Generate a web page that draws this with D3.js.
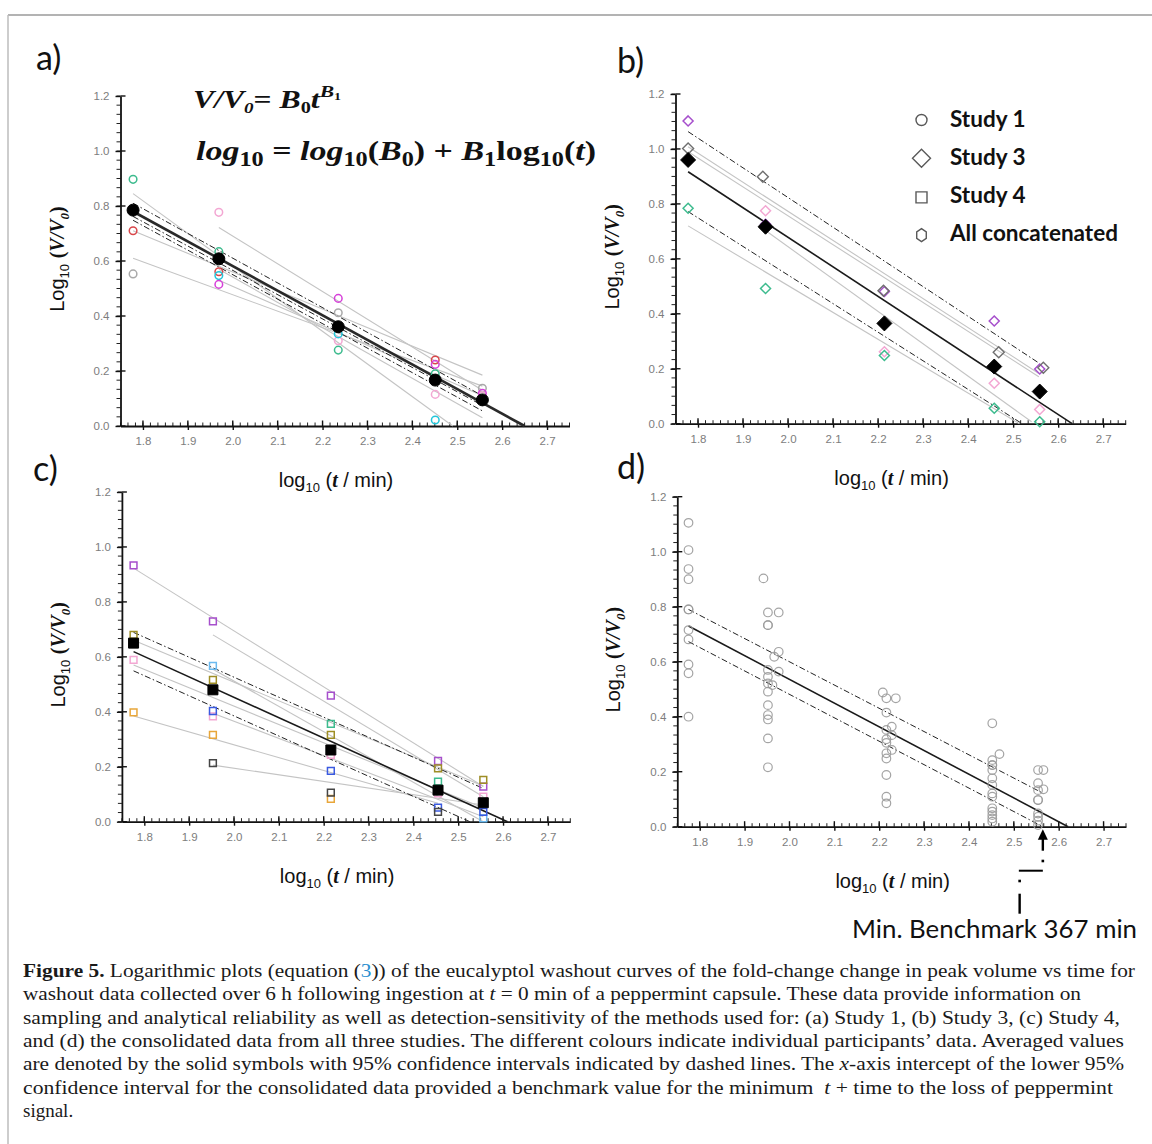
<!DOCTYPE html>
<html>
<head>
<meta charset="utf-8">
<script src="https://cdn.jsdelivr.net/npm/d3@7"></script>
<style>
  body { margin: 0; background: #fff; }
</style>
</head>
<body>
<svg id="fig" width="1152" height="1144" font-family="'Liberation Sans', Arial, sans-serif"></svg>
<script>
// ---------- axes ----------
const xDomain = [1.75, 2.75];
const yDomain = [0, 1.2];
const xTickValues = [1.8, 1.9, 2.0, 2.1, 2.2, 2.3, 2.4, 2.5, 2.6, 2.7];
const xTickLabels = ["1.8", "1.9", "2.0", "2.1", "2.2", "2.3", "2.4", "2.5", "2.6", "2.7"];
const yTickValues = [0, 0.2, 0.4, 0.6, 0.8, 1.0, 1.2];
const yTickLabels = ["0.0", "0.2", "0.4", "0.6", "0.8", "1.0", "1.2"];

// ---------- Study 1 (circles) ----------
const study1Times = [1.778, 1.969, 2.235, 2.451, 2.556];
const study1Means = [0.785, 0.608, 0.361, 0.167, 0.095];
const study1Ids = ["teal", "red", "grey", "pink", "cyan", "magenta"];
const study1Values = [
  [0.897, 0.634, 0.276, 0.190, null],
  [0.710, 0.561, null, 0.240, null],
  [0.553, null, 0.412, null, 0.137],
  [null, 0.777, 0.310, 0.115, 0.110],
  [null, 0.547, 0.335, 0.022, null],
  [null, 0.515, 0.464, 0.224, 0.119]
];
const study1Fits = [
  [1.778, 0.845, 2.490, 0.000],
  [1.969, 0.722, 2.556, 0.130],
  [1.778, 0.710, 2.556, 0.185],
  [1.778, 0.610, 2.556, 0.145],
  [1.969, 0.570, 2.556, 0.030],
  [1.969, 0.530, 2.556, 0.110]
];
const study1MeanFit = [1.778, 0.780, 2.650, 0.000];
const study1Bands = [
  [1.778, 0.810, 2.556, 0.110],
  [1.778, 0.762, 2.556, 0.075],
  [1.778, 0.748, 2.556, 0.055]
];

// ---------- Study 3 (diamonds) ----------
const study3Times = [1.778, 1.950, 2.214, 2.458, 2.559];
const study3GreyTimes = [1.778, 1.944, 2.212, 2.468, 2.567];
const study3Means = [0.960, 0.717, 0.365, 0.208, 0.117];
const study3Ids = ["purple", "pink", "teal"];
const study3Values = [
  [1.102, 0.726, 0.481, 0.374, 0.199],
  [null, 0.775, 0.262, 0.147, 0.052],
  [0.784, 0.492, 0.248, 0.056, 0.007]
];
const study3GreyValues = [1.002, 0.899, 0.484, 0.260, 0.204];
const study3Fits = [
  [1.778, 1.008, 2.557, 0.183],
  [1.778, 0.990, 2.557, 0.171],
  [1.950, 0.703, 2.541, 0.007],
  [1.778, 0.720, 2.514, 0.000]
];
const study3MeanFit = [1.778, 0.917, 2.631, 0.000];
const study3Bands = [
  [1.778, 1.063, 2.558, 0.220],
  [1.778, 0.772, 2.520, 0.000]
];

// ---------- Study 4 (squares) ----------
const study4Times = [1.776, 1.953, 2.216, 2.455, 2.556];
const study4Means = [0.650, 0.480, 0.261, 0.115, 0.069];
const study4Ids = ["purple", "olive", "pink", "orange", "lightblue", "blue", "teal", "black"];
const study4Values = [
  [0.933, 0.729, 0.459, 0.221, 0.128],
  [0.680, 0.516, 0.316, 0.194, 0.152],
  [0.589, 0.383, 0.243, 0.103, 0.091],
  [0.398, 0.316, 0.083, null, null],
  [null, 0.567, null, null, 0.012],
  [null, 0.403, 0.185, 0.051, 0.036],
  [null, null, 0.356, 0.146, null],
  [null, 0.213, 0.106, 0.036, null]
];
const study4Fits = [
  [1.776, 0.923, 2.556, 0.128],
  [1.953, 0.680, 2.556, 0.091],
  [1.776, 0.660, 2.556, 0.130],
  [1.776, 0.570, 2.556, 0.050],
  [1.776, 0.385, 2.455, 0.067],
  [1.953, 0.206, 2.556, 0.061],
  [1.953, 0.395, 2.556, 0.018],
  [1.953, 0.555, 2.556, 0.000]
];
const study4MeanFit = [1.776, 0.619, 2.610, 0.000];
const study4Bands = [
  [1.776, 0.689, 2.556, 0.121],
  [1.776, 0.549, 2.526, 0.000]
];

// ---------- All studies concatenated ----------
const allTimes = [
  1.775, 1.775, 1.775, 1.775, 1.775, 1.775, 1.775, 1.775, 1.775, 1.775, 1.775,
  1.942, 1.952, 1.976, 1.952, 1.952, 1.976, 1.966, 1.976, 1.952, 1.952, 1.952, 1.962, 1.952, 1.952, 1.952, 1.952, 1.952, 1.952,
  2.208, 2.216, 2.237, 2.216, 2.228, 2.216, 2.228, 2.216, 2.216, 2.228, 2.216, 2.216, 2.216, 2.216, 2.216,
  2.452, 2.468, 2.452, 2.452, 2.452, 2.452, 2.452, 2.452, 2.452, 2.452, 2.452, 2.452, 2.452, 2.452, 2.452,
  2.554, 2.566, 2.554, 2.566, 2.554, 2.554, 2.554, 2.554, 2.554, 2.554, 2.554
];
const allValues = [
  1.105, 1.006, 0.937, 0.900, 0.790, 0.790, 0.715, 0.681, 0.590, 0.558, 0.400,
  0.903, 0.779, 0.779, 0.733, 0.733, 0.636, 0.618, 0.564, 0.570, 0.545, 0.521, 0.515, 0.491, 0.442, 0.406, 0.390, 0.321, 0.216,
  0.488, 0.467, 0.467, 0.415, 0.364, 0.352, 0.333, 0.318, 0.305, 0.279, 0.267, 0.248, 0.188, 0.109, 0.085,
  0.376, 0.264, 0.242, 0.224, 0.224, 0.206, 0.176, 0.152, 0.121, 0.109, 0.067, 0.055, 0.042, 0.030, 0.018,
  0.206, 0.206, 0.158, 0.136, 0.133, 0.097, 0.097, 0.048, 0.036, 0.022, 0.006
];
const allMeanFit = [1.775, 0.730, 2.621, 0.000];
const benchmarkMinutes = 367;
const allBands = [
  [1.775, 0.790, 2.566, 0.121],
  [1.775, 0.673, Math.log10(benchmarkMinutes), 0.000]
];

const legendLabels = ["Study 1", "Study 3", "Study 4", "All concatenated"];
const legendShapes = ["circle", "diamond", "square", "hexagon"];

// ---------- styling ----------
const participantColour = d3.scaleOrdinal()
  .domain(["teal", "red", "grey", "pink", "cyan", "magenta", "purple", "olive", "orange", "lightblue", "blue", "black"])
  .range(["#3dbb8e", "#d9474a", "#a9a9a9", "#f3a7d3", "#22c6da", "#d63fd9", "#a64fcc", "#9e8e26", "#e8a63a", "#6bbaf0", "#3a5ae0", "#454545"]);

const SERIF = "'Liberation Serif', 'Times New Roman', serif";
const SANS = "'Liberation Sans', Arial, sans-serif";
const NARROW = "'Liberation Sans Narrow', 'Arial Narrow', 'Liberation Sans', sans-serif";
const ROUND = "Lato, 'Open Sans', sans-serif";

const shapePath = {
  circle: r => `M${r},0A${r},${r} 0 1,1 ${-r},0A${r},${r} 0 1,1 ${r},0Z`,
  diamond: r => `M0,${-r}L${r},0L0,${r}L${-r},0Z`,
  square: r => `M${-r},${-r}H${r}V${r}H${-r}Z`,
  hexagon: r => d3.range(6).map(k => {
      const a = -Math.PI / 2 + k * Math.PI / 3;
      return (k ? "L" : "M") + (0.85 * r * Math.cos(a)).toFixed(2) + "," + (r * Math.sin(a)).toFixed(2);
    }).join("") + "Z"
};

const svg = d3.select("#fig");

// frame lines of the figure
svg.append("line").attr("x1", 8).attr("x2", 1152).attr("y1", 15).attr("y2", 15)
  .attr("stroke", "#9a9a9a").attr("stroke-width", 1.5);
svg.append("line").attr("x1", 8).attr("x2", 8).attr("y1", 15).attr("y2", 1144)
  .attr("stroke", "#bdbdbd").attr("stroke-width", 1.5);

function makePanel(L) {
  const g = svg.append("g");
  const x = d3.scaleLinear().domain(xDomain).range([L.x0, L.x1]);
  const y = d3.scaleLinear().domain(yDomain).range([L.y0, L.y1]);

  // minor ticks
  const xMinor = d3.range(61).map(i => xDomain[0] + i * (xDomain[1] - xDomain[0]) / 60);
  const yMinor = d3.range(37).map(i => yDomain[0] + i * (yDomain[1] - yDomain[0]) / 36);
  g.selectAll(null).data(xMinor).join("line")
    .attr("x1", d => x(d)).attr("x2", d => x(d))
    .attr("y1", y(0)).attr("y2", y(0) - 3.5)
    .attr("stroke", "#222").attr("stroke-width", 1);
  g.selectAll(null).data(yMinor).join("line")
    .attr("x1", x(xDomain[0])).attr("x2", x(xDomain[0]) - 4)
    .attr("y1", d => y(d)).attr("y2", d => y(d))
    .attr("stroke", "#222").attr("stroke-width", 1);

  // major axes (outer ticks from d3, inner halves added)
  const xAxis = d3.axisBottom(x).tickValues(xTickValues)
    .tickFormat((d, i) => xTickLabels[i]).tickSizeInner(4).tickSizeOuter(0).tickPadding(7);
  const yAxis = d3.axisLeft(y).tickValues(yTickValues)
    .tickFormat((d, i) => yTickLabels[i]).tickSizeInner(5).tickSizeOuter(0).tickPadding(6);
  const gx = g.append("g").attr("transform", `translate(0,${y(0)})`).call(xAxis);
  const gy = g.append("g").attr("transform", `translate(${x(xDomain[0])},0)`).call(yAxis);
  [gx, gy].forEach(a => {
    a.attr("font-family", NARROW).attr("font-size", 11.5);
    a.select(".domain").attr("stroke", "#111").attr("stroke-width", 1.8);
    a.selectAll(".tick line").attr("stroke", "#111").attr("stroke-width", 1.4);
    a.selectAll(".tick text").attr("fill", "#7d7d7d");
  });
  g.selectAll(null).data(xTickValues).join("line")
    .attr("x1", d => x(d)).attr("x2", d => x(d))
    .attr("y1", y(0)).attr("y2", y(0) - 5.5)
    .attr("stroke", "#111").attr("stroke-width", 1.4);
  g.selectAll(null).data(yTickValues).join("line")
    .attr("x1", x(xDomain[0])).attr("x2", x(xDomain[0]) + 5)
    .attr("y1", d => y(d)).attr("y2", d => y(d))
    .attr("stroke", "#111").attr("stroke-width", 1.4);

  // axis titles
  const xt = g.append("text").attr("x", (L.x0 + L.x1) / 2 - 9).attr("y", y(0) + 61)
    .attr("text-anchor", "middle").attr("font-size", 20).attr("fill", "#111").attr("font-family", SANS);
  xt.append("tspan").text("log");
  xt.append("tspan").attr("font-size", 13).attr("dy", 5).text("10");
  xt.append("tspan").attr("dy", -5).text(" (");
  xt.append("tspan").attr("font-family", SERIF).attr("font-style", "italic").attr("font-weight", "bold").text("t");
  xt.append("tspan").text(" / min)");

  const cy = (y(0) + y(1.2)) / 2 - 2;
  const yt = g.append("text").attr("transform", `translate(${L.x0 - 57},${cy}) rotate(-90)`)
    .attr("text-anchor", "middle").attr("font-size", 20).attr("fill", "#111").attr("font-family", SANS);
  yt.append("tspan").text("Log");
  yt.append("tspan").attr("font-size", 13).attr("dy", 5).text("10");
  yt.append("tspan").attr("dy", -5).text(" ");
  yt.append("tspan").attr("font-family", SERIF).attr("font-weight", "bold").text("(");
  yt.append("tspan").attr("font-family", SERIF).attr("font-weight", "bold").attr("font-style", "italic").text("V/V");
  yt.append("tspan").attr("font-family", SERIF).attr("font-weight", "bold").attr("font-style", "italic")
    .attr("font-size", 13).attr("dy", 5).text("0");
  yt.append("tspan").attr("font-family", SERIF).attr("font-weight", "bold").attr("dy", -5).text(")");

  // panel letter
  g.append("text").attr("x", L.lx).attr("y", L.ly).attr("font-family", ROUND)
    .attr("font-size", 34).attr("fill", "#111").text(L.letter);

  return { g, x, y };
}

function drawSegments(P, segs, stroke, width, dash) {
  P.g.selectAll(null).data(segs).join("line")
    .attr("x1", d => P.x(d[0])).attr("y1", d => P.y(d[1]))
    .attr("x2", d => P.x(d[2])).attr("y2", d => P.y(d[3]))
    .attr("stroke", stroke).attr("stroke-width", width)
    .attr("stroke-dasharray", dash || null);
}

function drawSeries(P, times, ids, values, shape, r) {
  ids.forEach((id, k) => {
    const pts = values[k].map((v, i) => [times[i], v]).filter(p => p[1] !== null);
    P.g.selectAll(null).data(pts).join("path")
      .attr("transform", d => `translate(${P.x(d[0])},${P.y(d[1])})`)
      .attr("d", shapePath[shape](r))
      .attr("fill", "none").attr("stroke", participantColour(id)).attr("stroke-width", 1.5);
  });
}

function drawMeans(P, times, means, shape, r) {
  P.g.selectAll(null).data(d3.zip(times, means)).join("path")
    .attr("transform", d => `translate(${P.x(d[0])},${P.y(d[1])})`)
    .attr("d", shapePath[shape](r))
    .attr("fill", "#000").attr("stroke", "#000").attr("stroke-width", 1);
}

const DASHDOT = "6,2.5,1.5,2.5";

// ---------- panel a ----------
const A = makePanel({ x0: 120.5, x1: 569.5, y0: 426, y1: 96, letter: "a)", lx: 36, ly: 70 });
drawSegments(A, study1Fits, "#c4c4c4", 1.1);
drawSegments(A, study1Bands, "#222", 1, DASHDOT);
drawSegments(A, [study1MeanFit], "#2a2a2a", 2.6);
drawSeries(A, study1Times, study1Ids, study1Values, "circle", 3.8);
drawMeans(A, study1Times, study1Means, "circle", 6);

// equation
const eq1 = A.g.append("text").attr("x", 193).attr("y", 108).attr("font-family", SERIF)
  .attr("font-weight", "bold").attr("font-size", 25).attr("fill", "#111")
  .attr("textLength", 148).attr("lengthAdjust", "spacingAndGlyphs");
eq1.append("tspan").attr("font-style", "italic").text("V/V");
eq1.append("tspan").attr("font-style", "italic").attr("font-size", 15).attr("dy", 5).text("0");
eq1.append("tspan").attr("dy", -5).text("= ");
eq1.append("tspan").attr("font-style", "italic").text("B");
eq1.append("tspan").attr("font-size", 16).attr("dy", 5).text("0");
eq1.append("tspan").attr("font-style", "italic").attr("dy", -5).text("t");
eq1.append("tspan").attr("font-style", "italic").attr("font-size", 17).attr("dy", -11).text("B");
eq1.append("tspan").attr("font-size", 11).attr("dy", 3).text("1");

const eq2 = A.g.append("text").attr("x", 196).attr("y", 160).attr("font-family", SERIF)
  .attr("font-weight", "bold").attr("font-size", 28).attr("fill", "#111")
  .attr("textLength", 400).attr("lengthAdjust", "spacingAndGlyphs");
eq2.append("tspan").attr("font-style", "italic").text("log");
eq2.append("tspan").attr("font-size", 20).attr("dy", 6).text("10");
eq2.append("tspan").attr("dy", -6).text(" = ");
eq2.append("tspan").attr("font-style", "italic").text("log");
eq2.append("tspan").attr("font-size", 20).attr("dy", 6).text("10");
eq2.append("tspan").attr("dy", -6).text("(");
eq2.append("tspan").attr("font-style", "italic").text("B");
eq2.append("tspan").attr("font-size", 20).attr("dy", 6).text("0");
eq2.append("tspan").attr("dy", -6).text(") + ");
eq2.append("tspan").attr("font-style", "italic").text("B");
eq2.append("tspan").attr("font-size", 20).attr("dy", 6).text("1");
eq2.append("tspan").attr("dy", -6).text("log");
eq2.append("tspan").attr("font-size", 20).attr("dy", 6).text("10");
eq2.append("tspan").attr("dy", -6).text("(");
eq2.append("tspan").attr("font-style", "italic").text("t");
eq2.append("tspan").text(")");

// ---------- panel b ----------
const B = makePanel({ x0: 675.5, x1: 1125.7, y0: 423.7, y1: 94, letter: "b)", lx: 617, ly: 73 });
drawSegments(B, study3Fits, "#c4c4c4", 1.1);
drawSegments(B, study3Bands, "#222", 1, DASHDOT);
drawSegments(B, [study3MeanFit], "#1a1a1a", 1.6);
drawSeries(B, study3Times, study3Ids, study3Values, "diamond", 5);
B.g.selectAll(null).data(d3.zip(study3GreyTimes, study3GreyValues)).join("path")
  .attr("transform", d => `translate(${B.x(d[0])},${B.y(d[1])})`)
  .attr("d", shapePath.diamond(5.5))
  .attr("fill", "none").attr("stroke", "#6f6f6f").attr("stroke-width", 1.4);
drawMeans(B, study3Times, study3Means, "diamond", 7.5);

// legend
const legend = B.g.append("g");
legendLabels.forEach((lab, i) => {
  const cy = 119 + i * 38.2;
  const sizes = [5.5, 9, 5.5, 6.5];
  legend.append("path").attr("transform", `translate(921.5,${cy + (i === 2 ? 2 : i === 3 ? 1.5 : 1)})`)
    .attr("d", shapePath[legendShapes[i]](sizes[i]))
    .attr("fill", "none").attr("stroke", "#595959").attr("stroke-width", 1.4);
  legend.append("text").attr("x", 950).attr("y", cy + 7.5).attr("font-family", ROUND)
    .attr("font-weight", "bold").attr("font-size", 22.5).attr("fill", "#111").text(lab);
});

// ---------- panel c ----------
const C = makePanel({ x0: 121.9, x1: 570.3, y0: 821.7, y1: 492, letter: "c)", lx: 33, ly: 481 });
drawSegments(C, study4Fits, "#c4c4c4", 1.1);
drawSegments(C, study4Bands, "#222", 1, DASHDOT);
drawSegments(C, [study4MeanFit], "#1a1a1a", 1.6);
drawSeries(C, study4Times, study4Ids, study4Values, "square", 3.4);
drawMeans(C, study4Times, study4Means, "square", 5);

// ---------- panel d ----------
const D = makePanel({ x0: 677.3, x1: 1126, y0: 826.7, y1: 496.7, letter: "d)", lx: 617, ly: 479 });
drawSegments(D, allBands, "#222", 1, DASHDOT);
drawSegments(D, [allMeanFit], "#1a1a1a", 1.6);
D.g.selectAll(null).data(d3.zip(allTimes, allValues)).join("path")
  .attr("transform", d => `translate(${D.x(d[0])},${D.y(d[1])})`)
  .attr("d", shapePath.circle(4.3))
  .attr("fill", "none").attr("stroke", "#9a9a9a").attr("stroke-width", 1.2).attr("stroke-opacity", 0.9);

// benchmark marker
const bx = D.x(Math.log10(benchmarkMinutes));
const ann = D.g.append("g").attr("fill", "#000").attr("stroke", "#000");
ann.append("line").attr("x1", bx).attr("x2", bx).attr("y1", D.y(0) + 10).attr("y2", D.y(0) + 24).attr("stroke-width", 2.4);
ann.append("path").attr("d", `M${bx},${D.y(0) + 2.5}L${bx - 5},${D.y(0) + 13}L${bx + 5},${D.y(0) + 13}Z`).attr("stroke", "none");
ann.append("rect").attr("x", bx - 1.3).attr("y", D.y(0) + 33).attr("width", 2.6).attr("height", 2.6).attr("stroke", "none");
ann.append("line").attr("x1", bx - 24).attr("x2", bx).attr("y1", D.y(0) + 44).attr("y2", D.y(0) + 44).attr("stroke-width", 2);
ann.append("rect").attr("x", bx - 24.5).attr("y", D.y(0) + 53).attr("width", 2.6).attr("height", 2.6).attr("stroke", "none");
ann.append("line").attr("x1", bx - 23.2).attr("x2", bx - 23.2).attr("y1", D.y(0) + 67).attr("y2", D.y(0) + 87).attr("stroke-width", 2.4);
D.g.append("text").attr("x", 852).attr("y", 938)
  .attr("font-family", ROUND).attr("font-size", 25).attr("fill", "#111")
  .attr("textLength", 285).attr("lengthAdjust", "spacingAndGlyphs")
  .text("Min. Benchmark " + benchmarkMinutes + " min");

// ---------- caption ----------
const captionLines = [
  [["Figure 5.", "b"], [" Logarithmic plots (equation (", ""], ["3", "link"], [")) of the eucalyptol washout curves of the fold-change change in peak volume vs time for", ""]],
  [["washout data collected over 6 h following ingestion at ", ""], ["t", "i"], [" = 0 min of a peppermint capsule. These data provide information on", ""]],
  [["sampling and analytical reliability as well as detection-sensitivity of the methods used for: (a) Study 1, (b) Study 3, (c) Study 4,", ""]],
  [["and (d) the consolidated data from all three studies. The different colours indicate individual participants\u2019 data. Averaged values", ""]],
  [["are denoted by the solid symbols with 95% confidence intervals indicated by dashed lines. The ", ""], ["x", "i"], ["-axis intercept of the lower 95%", ""]],
  [["confidence interval for the consolidated data provided a benchmark value for the minimum\u2002", ""], ["t", "i"], [" + time to the loss of peppermint", ""]],
  [["signal.", ""]]
];
const captionEnds = [1135, 1081, 1120, 1124, 1124, 1113, null];
const captionLeft = 23;
const cap = svg.append("g").attr("font-family", SERIF).attr("font-size", 19).attr("fill", "#1a1a1a");
captionLines.forEach((parts, i) => {
  const t = cap.append("text").attr("x", captionLeft).attr("y", 977 + i * 23.3);
  if (captionEnds[i]) t.attr("textLength", captionEnds[i] - captionLeft).attr("lengthAdjust", "spacingAndGlyphs");
  parts.forEach(([s, f]) => {
    const ts = t.append("tspan").text(s);
    if (f === "b") ts.attr("font-weight", "bold");
    if (f === "i") ts.attr("font-style", "italic");
    if (f === "link") ts.attr("fill", "#2a8fd0");
  });
});
</script>
</body>
</html>
